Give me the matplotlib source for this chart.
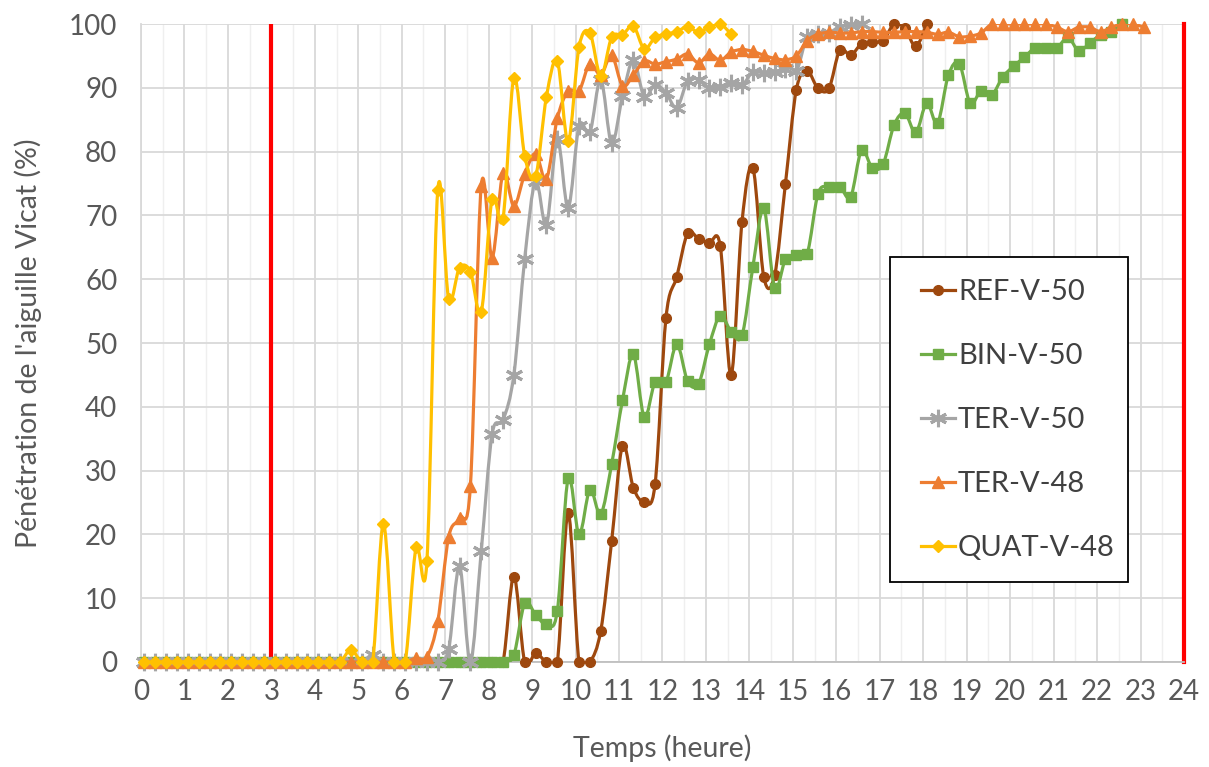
import numpy as np
import matplotlib
matplotlib.use('Agg')
import matplotlib.pyplot as plt
from matplotlib.path import Path
from matplotlib.patches import PathPatch, Rectangle
from matplotlib.lines import Line2D

plt.rcParams['font.family'] = ['Lato', 'DejaVu Sans']

# temps de mesure (heures), un point toutes les 15 min
temps = [0.08, 0.33, 0.58, 0.83, 1.08, 1.33, 1.58, 1.83, 2.08, 2.33,
         2.58, 2.83, 3.08, 3.33, 3.58, 3.83, 4.08, 4.33, 4.58, 4.83,
         5.08, 5.33, 5.58, 5.83, 6.08, 6.33, 6.58, 6.83, 7.08, 7.33,
         7.58, 7.83, 8.08, 8.33, 8.58, 8.83, 9.08, 9.33, 9.58, 9.83,
         10.08, 10.33, 10.58, 10.83, 11.08, 11.33, 11.58, 11.83, 12.08, 12.33,
         12.58, 12.83, 13.08, 13.33, 13.58, 13.83, 14.08, 14.33, 14.58, 14.83,
         15.08, 15.33, 15.58, 15.83, 16.08, 16.33, 16.58, 16.83, 17.08, 17.33,
         17.58, 17.83, 18.08, 18.33, 18.58, 18.83, 19.08, 19.33, 19.58, 19.83,
         20.08, 20.33, 20.58, 20.83, 21.08, 21.33, 21.58, 21.83, 22.08, 22.33,
         22.58, 22.83, 23.08]

ref_v50 = [0] * 34 + [
    13.4, 0, 1.4, 0, 0, 23.3, 0, 0, 4.9, 18.9,
    33.9, 27.3, 25.1, 27.9, 53.9, 60.4, 67.2, 66.3, 65.7, 65.2,
    45.0, 69.0, 77.5, 60.4, 60.6, 75.0, 89.7, 92.6, 89.9, 89.9,
    95.9, 95.1, 96.9, 97.2, 97.4, 100, 99.3, 96.5, 100]

bin_v50 = [0] * 34 + [
    1.1, 9.2, 7.4, 5.9, 8.0, 28.8, 20.0, 27.0, 23.2, 31.0,
    41.0, 48.2, 38.4, 43.9, 43.9, 49.8, 44.0, 43.6, 49.8, 54.3,
    51.8, 51.2, 61.9, 71.1, 58.6, 63.1, 63.8, 64.0, 73.4, 74.5,
    74.5, 72.9, 80.2, 77.4, 78.1, 84.2, 86.0, 83.0, 87.6, 84.5,
    92.0, 93.8, 87.6, 89.5, 88.9, 91.7, 93.4, 94.8, 96.3, 96.3,
    96.3, 97.9, 95.8, 97.0, 98.3, 98.8, 100]

ter_v50 = [0] * 21 + [1.1, 0, 0, 0, 0, 0, 0] + [
    2.0, 15.0, 0, 17.4, 35.7, 37.9, 45.0, 63.2, 75.4, 68.5,
    81.9, 71.2, 84.0, 83.0, 91.3, 81.3, 88.7, 94.3, 88.6, 90.5,
    89.2, 86.9, 91.1, 91.3, 89.9, 90.2, 90.8, 90.4, 92.5, 92.3,
    92.5, 92.9, 92.6, 98.0, 98.5, 98.6, 99.6, 99.8, 100]

ter_v48 = [0] * 25 + [
    0.6, 0.8, 6.4, 19.6, 22.6, 27.6, 74.6, 63.4, 76.6, 71.5,
    76.5, 79.7, 75.7, 85.2, 89.5, 89.5, 93.8, 92.0, 95.1, 90.3,
    92.0, 94.2, 93.7, 94.1, 94.5, 95.3, 93.9, 95.3, 94.3, 95.6,
    96.0, 95.7, 95.1, 94.6, 94.4, 95.0, 97.4, 98.4, 98.7, 98.6,
    98.6, 98.8, 98.8, 98.7, 98.7, 98.8, 98.8, 98.7, 98.4, 98.7,
    98.0, 98.1, 98.6, 100, 100, 100, 100, 100, 100, 99.5,
    98.8, 99.5, 99.5, 98.8, 99.5, 100, 100, 99.5]

quat_v48 = [0] * 19 + [
    1.9, 0, 0, 21.6, 0, 0, 18.0, 15.9, 74.0, 56.9,
    61.8, 61.2, 54.9, 72.6, 69.5, 91.6, 79.3, 76.1, 88.6, 94.2,
    81.6, 96.4, 98.6, 91.8, 97.9, 98.3, 99.7, 96.1, 97.9, 98.4,
    98.8, 99.6, 98.7, 99.6, 100, 98.4]

series = [
    ('REF-V-50', ref_v50, '#9E480E', 'o', 7, 1),
    ('BIN-V-50', bin_v50, '#70AD47', 's', 7.5, 1),
    ('TER-V-50', ter_v50, '#A5A5A5', (6, 2, 0), 12.5, 2.2),
    ('TER-V-48', ter_v48, '#ED7D31', '^', 8.5, 1),
    ('QUAT-V-48', quat_v48, '#FFC000', 'D', 6.5, 1),
]


def smooth_path(x, y):
    # courbe lissee facon Excel (bezier de Catmull-Rom)
    pts = np.column_stack([x, y]).astype(float)
    n = len(pts)
    verts = [pts[0]]
    codes = [Path.MOVETO]
    for i in range(n - 1):
        p0 = pts[max(i - 1, 0)]
        p1 = pts[i]
        p2 = pts[i + 1]
        p3 = pts[min(i + 2, n - 1)]
        verts += [p1 + (p2 - p0) / 6, p2 - (p3 - p1) / 6, p2]
        codes += [Path.CURVE4] * 3
    return Path(verts, codes)


W, H = 1209, 767
fig = plt.figure(figsize=(W / 100, H / 100), dpi=100)
ax = fig.add_axes([0.1166, 0.1369, 0.8627, 0.8318])

ax.set_xlim(0, 24)
ax.set_ylim(0, 100)
ax.set_xticks(range(0, 25))
ax.set_xticks(np.arange(0.5, 24, 1), minor=True)
ax.set_yticks(range(0, 101, 10))
ax.grid(which='major', axis='both', color='#D9D9D9', lw=1.3, zorder=0)
ax.grid(which='minor', axis='x', color='#EFEFEF', lw=1.0, zorder=0)
ax.set_axisbelow(True)
for s in ['top', 'right']:
    ax.spines[s].set_visible(False)
ax.spines['left'].set_color('#D9D9D9')
ax.spines['bottom'].set_color('#BFBFBF')
ax.spines['left'].set_linewidth(1.3)
ax.spines['bottom'].set_linewidth(1.3)
ax.tick_params(which='both', length=0, labelsize=20, labelcolor='#595959')
ax.tick_params(axis='y', pad=17)
ax.tick_params(axis='x', pad=12)

# limites en rouge
ax.axvline(3, color='#FF0000', lw=3, zorder=1.5)
ax.axvline(24, color='#FF0000', lw=3, zorder=1.5, clip_on=False)

handles = []
for i, (name, vals, col, mk, ms, mew) in enumerate(series):
    t = temps[:len(vals)]
    z = 3 + i
    patch = PathPatch(smooth_path(t, vals), fill=False, edgecolor=col,
                      lw=2.3, zorder=z, joinstyle='round', capstyle='round')
    # on coupe le depassement du lissage sous 0
    patch.set_clip_path(Rectangle((-1, -0.45), 26, 104, transform=ax.transData))
    ax.add_patch(patch)
    ax.plot(t, vals, linestyle='none', marker=mk, ms=ms, color=col,
            mec=col, mew=mew, zorder=z + 0.5, clip_on=False)
    handles.append(Line2D([], [], color=col, lw=2.3, marker=mk, ms=ms,
                          mec=col, mew=mew))

# cadre de la legende
ax.add_patch(Rectangle((890 / W, 1 - 582 / H), 238 / W, 325 / H,
                       transform=fig.transFigure, fc='white', ec='black',
                       lw=1.3, zorder=19, clip_on=False))
leg = ax.legend(handles, [s[0] for s in series], loc='center left',
                bbox_to_anchor=(921 / W, 1 - 420 / H),
                bbox_transform=fig.transFigure, fontsize=21, frameon=False,
                handlelength=1.15, handletextpad=0.12, labelspacing=1.3,
                borderpad=0, borderaxespad=0)
for txt in leg.get_texts():
    txt.set_color('#404040')
leg.set_zorder(20)

fig.text(28 / W, 1 - 343 / H, "Pénétration de l'aiguille Vicat (%)",
         rotation=90, ha='center', va='center', fontsize=20.5, color='#595959')
fig.text(662 / W, 1 - 748 / H, 'Temps (heure)', ha='center', va='center',
         fontsize=20.5, color='#595959')

fig.savefig('out.png', dpi=100)
